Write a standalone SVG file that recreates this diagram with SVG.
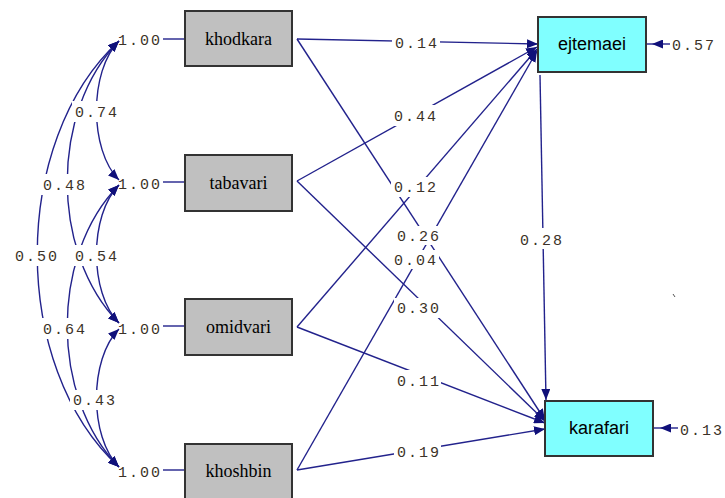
<svg xmlns="http://www.w3.org/2000/svg" width="725" height="498" viewBox="0 0 725 498">
<style>
.bg{fill:#ffffff}
.obs{fill:#c0c0c0;stroke:#333333;stroke-width:2}
.lat{fill:#80ffff;stroke:#333333;stroke-width:2}
.ntx{font-family:"Liberation Serif",serif;font-size:18px;fill:#000000;text-anchor:middle}
.ltx{font-family:"Liberation Sans",sans-serif;font-size:18px;fill:#000000;text-anchor:middle}
.ln{fill:none;stroke:#22228c;stroke-width:1.4}
.arr{marker-end:url(#ah)}
.dbl{marker-start:url(#ah);marker-end:url(#ah)}
.num{font-family:"Liberation Mono",monospace;font-size:15px;letter-spacing:2px;fill:#3c3228}
.gap{fill:#ffffff}
</style>
<defs>
<marker id="ah" viewBox="0 0 11 9" refX="11" refY="4.5" markerWidth="11" markerHeight="9" markerUnits="userSpaceOnUse" orient="auto-start-reverse">
<path d="M0,0 L11,4.5 L0,9 z" fill="#10107a"/>
</marker>
</defs>
<rect class="bg" x="0" y="0" width="725" height="498"/>

<g id="connectors">
<line class="ln" x1="163" y1="39" x2="185" y2="39"/>
<line class="ln" x1="163" y1="182" x2="185" y2="182"/>
<line class="ln" x1="163" y1="326" x2="185" y2="326"/>
<line class="ln" x1="163" y1="470" x2="185" y2="470"/>
<path class="ln dbl" d="M119,41 C89,71 89,150 119,180"/>
<path class="ln dbl" d="M119,41 C50,111 50,253 119,323"/>
<path class="ln dbl" d="M119,41 C10,141 10,367 119,467"/>
<path class="ln dbl" d="M119,185 C89,215 89,293 119,323"/>
<path class="ln dbl" d="M119,185 C50,255 50,397 119,467"/>
<path class="ln dbl" d="M119,329 C89,359 89,437 119,467"/>
<line class="ln arr" x1="297" y1="39" x2="538" y2="44"/>
<line class="ln arr" x1="297" y1="181" x2="537" y2="47"/>
<line class="ln arr" x1="297" y1="327" x2="537" y2="49"/>
<line class="ln arr" x1="297" y1="470" x2="537" y2="51"/>
<line class="ln arr" x1="297" y1="39" x2="545" y2="420"/>
<line class="ln arr" x1="297" y1="181" x2="545" y2="421"/>
<line class="ln arr" x1="297" y1="327" x2="545" y2="423"/>
<line class="ln arr" x1="297" y1="470" x2="545" y2="429"/>
<line class="ln arr" x1="540" y1="75" x2="546" y2="400"/>
<line class="ln arr" x1="670" y1="44" x2="652" y2="44"/>
<line class="ln" x1="652" y1="44" x2="647" y2="44"/>
<line class="ln arr" x1="678" y1="428" x2="660" y2="428"/>
<line class="ln" x1="660" y1="428" x2="654" y2="428"/>
<line x1="673" y1="294" x2="675" y2="297" stroke="#555555" stroke-width="1"/>
</g>

<g id="labels">
<rect class="gap" x="392" y="35" width="48" height="16"/><text class="num" x="395" y="48">0.14</text>
<rect class="gap" x="391" y="105" width="48" height="21"/><text class="num" x="394" y="121">0.44</text>
<rect class="gap" x="391" y="177" width="48" height="20"/><text class="num" x="394" y="192">0.12</text>
<rect class="gap" x="394" y="226" width="47" height="19"/><text class="num" x="397" y="241">0.26</text>
<rect class="gap" x="391" y="250" width="48" height="19"/><text class="num" x="394" y="265">0.04</text>
<rect class="gap" x="394" y="298" width="47" height="20"/><text class="num" x="397" y="313">0.30</text>
<rect class="gap" x="394" y="370" width="47" height="20"/><text class="num" x="397" y="386">0.11</text>
<rect class="gap" x="394" y="444" width="47" height="17"/><text class="num" x="397" y="457">0.19</text>
<rect class="gap" x="517" y="228" width="47" height="21"/><text class="num" x="520" y="245">0.28</text>
<text class="num" x="672" y="50">0.57</text>
<text class="num" x="680" y="435">0.13</text>
<rect class="gap" x="72" y="101" width="46" height="21"/><text class="num" x="75" y="117">0.74</text>
<rect class="gap" x="40" y="174" width="48" height="21"/><text class="num" x="43" y="190">0.48</text>
<rect class="gap" x="12" y="245" width="46" height="21"/><text class="num" x="15" y="261">0.50</text>
<rect class="gap" x="72" y="245" width="46" height="21"/><text class="num" x="75" y="261">0.54</text>
<rect class="gap" x="40" y="318" width="48" height="21"/><text class="num" x="43" y="334">0.64</text>
<rect class="gap" x="70" y="390" width="48" height="20"/><text class="num" x="73" y="405">0.43</text>
<text class="num" x="118" y="45">1.00</text>
<text class="num" x="118" y="189">1.00</text>
<text class="num" x="118" y="334">1.00</text>
<text class="num" x="118" y="477">1.00</text>
</g>

<g id="khodkara"><rect class="obs" x="185" y="11" width="107" height="55"/><text class="ntx" x="238.5" y="45">khodkara</text></g>
<g id="tabavari"><rect class="obs" x="185" y="155" width="107" height="56"/><text class="ntx" x="238.5" y="189">tabavari</text></g>
<g id="omidvari"><rect class="obs" x="185" y="299" width="107" height="56"/><text class="ntx" x="238.5" y="333">omidvari</text></g>
<g id="khoshbin"><rect class="obs" x="185" y="444" width="107" height="56"/><text class="ntx" x="238.5" y="477">khoshbin</text></g>
<g id="ejtemaei"><rect class="lat" x="538" y="17" width="108" height="55"/><text class="ltx" x="592" y="50">ejtemaei</text></g>
<g id="karafari"><rect class="lat" x="545" y="401" width="108" height="55"/><text class="ltx" x="599" y="434">karafari</text></g>
</svg>
